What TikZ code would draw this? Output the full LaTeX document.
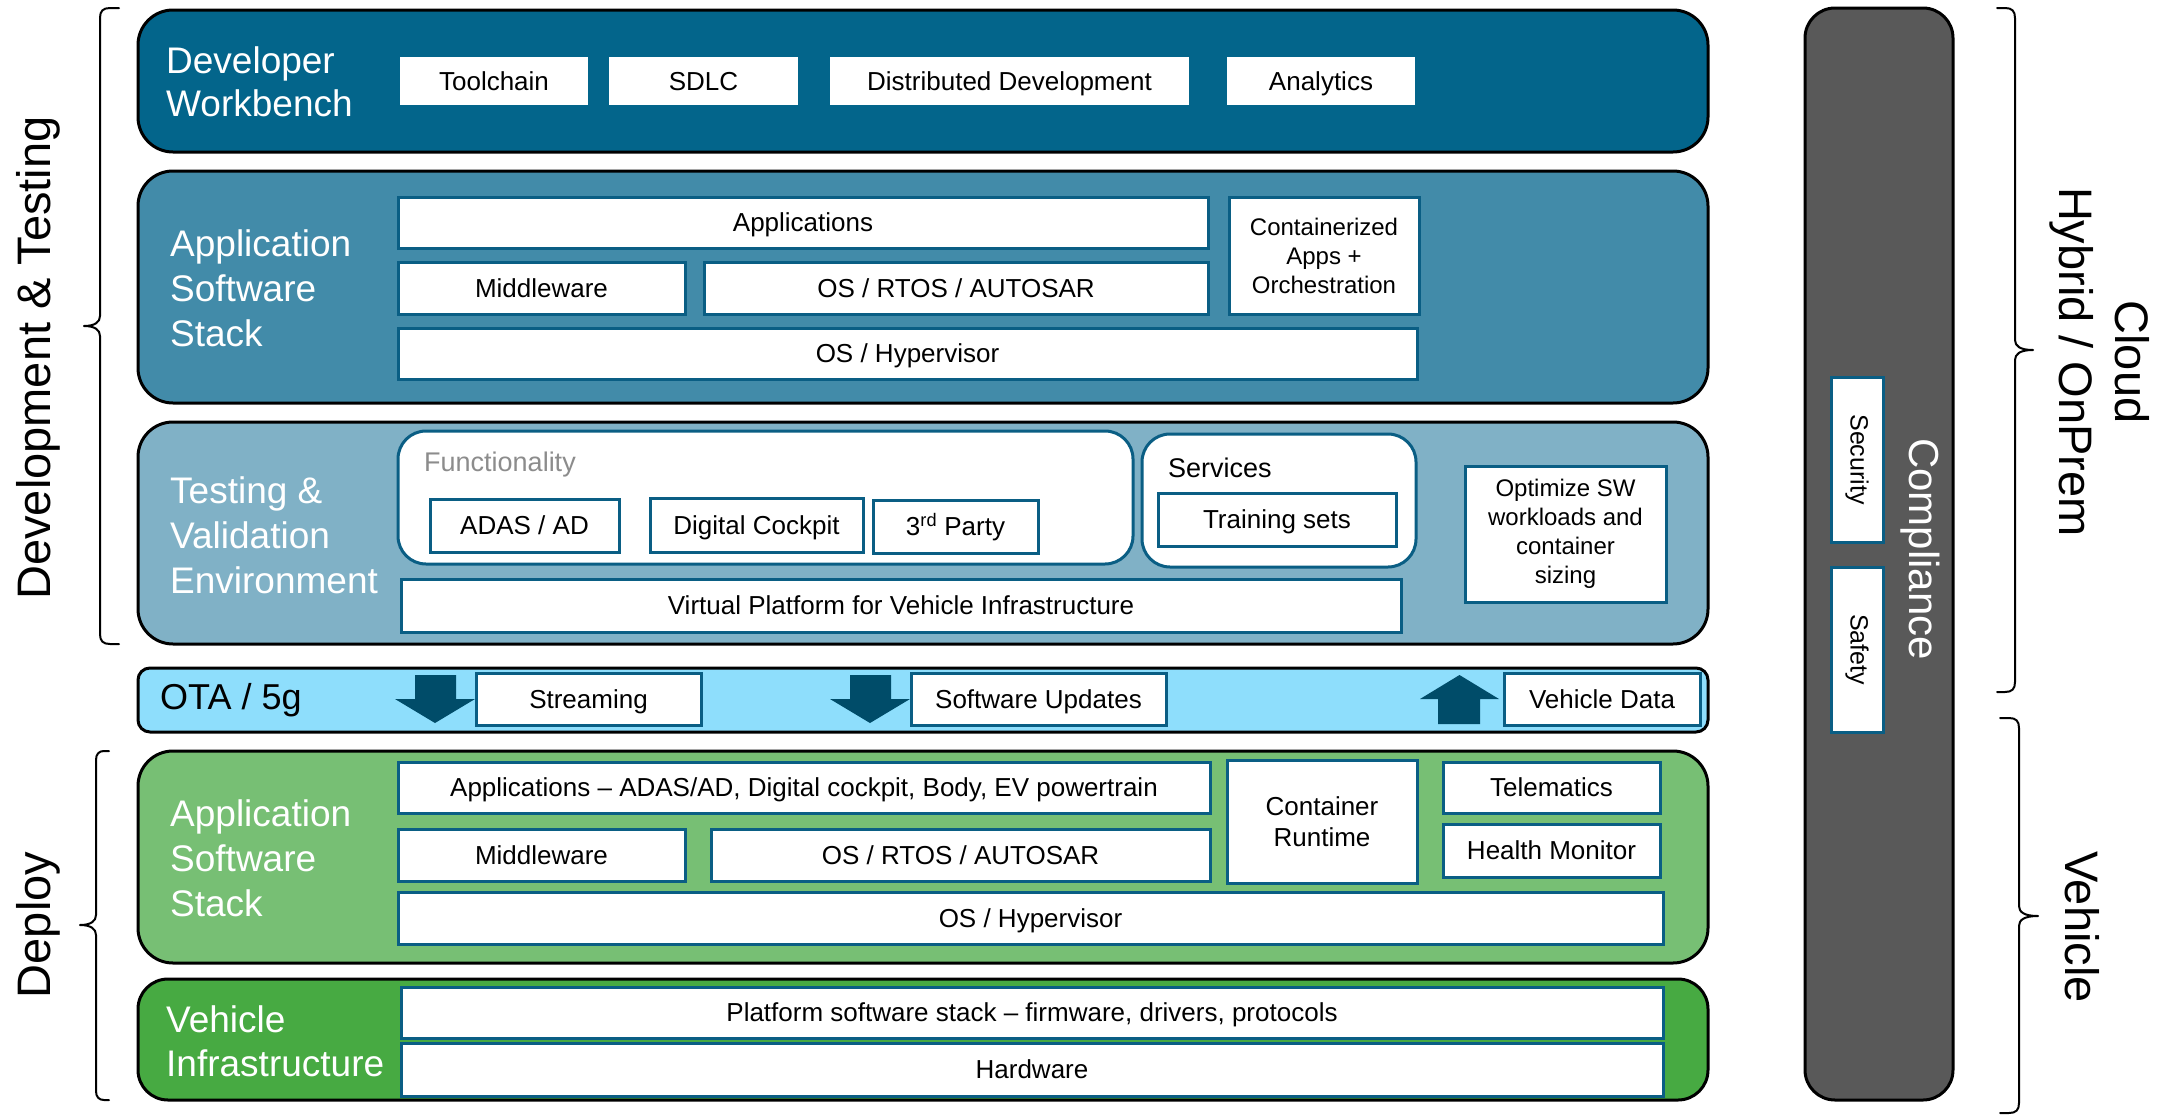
\documentclass[tikz,border=0pt]{standalone}
\usepackage{fontspec}
\setmainfont{Liberation Sans}
\definecolor{devwb}{HTML}{03658B}
\definecolor{appdev}{HTML}{428BA9}
\definecolor{testenv}{HTML}{80B1C6}
\definecolor{otaband}{HTML}{8EDEFC}
\definecolor{appveh}{HTML}{77BF74}
\definecolor{vehinf}{HTML}{47AA42}
\definecolor{compl}{HTML}{595959}
\definecolor{arrowteal}{HTML}{004C69}
\definecolor{boxline}{HTML}{0A5E84}
\definecolor{greytext}{HTML}{8C8C8C}
\newcommand\fBox{\fontsize{26}{31}\selectfont}
\newcommand\fSmall{\fontsize{24}{29}\selectfont}
\newcommand\fTitle{\fontsize{37}{45}\selectfont}
\newcommand\fSide{\fontsize{47}{56}\selectfont}
\begin{document}
\begin{tikzpicture}[x=1pt,y=-1pt,
  panel/.style={draw=black, line width=3pt, rounded corners=35pt, inner sep=0pt, outer sep=0pt},
  wbox/.style={draw=boxline, line width=3pt, fill=white, inner sep=0pt, outer sep=0pt, font=\fBox, text=black},
  pbox/.style={fill=white, inner sep=0pt, outer sep=0pt, font=\fBox, text=black},
  one/.style={text height=23.5pt, text depth=5.5pt},
  group/.style={draw=boxline, line width=3pt, fill=white, rounded corners=28pt, inner sep=0pt, outer sep=0pt},
  ttl/.style={text=white, font=\fTitle, align=left, inner sep=0pt, anchor=west},
  side/.style={font=\fSide, inner sep=0pt, align=center},
  brace/.style={draw=black, line width=2pt, line cap=round, line join=round},
  blockarrow/.style={fill=arrowteal}
]
\useasboundingbox (0,0) rectangle (2161,1114);

% ---------- Developer Workbench ----------
\node[panel, fill=devwb, minimum width=1570pt, minimum height=142pt] (pwb) at (923,81) {};
\node[ttl, font=\fontsize{37}{43}\selectfont] (twb) at (166,82) {Developer\\Workbench};
\node[pbox, one, minimum width=188pt, minimum height=48pt] (toolchain) at (494,81) {Toolchain};
\node[pbox, one, minimum width=189pt, minimum height=48pt] (sdlc) at (703.5,81) {SDLC};
\node[pbox, one, minimum width=359pt, minimum height=48pt] (distdev) at (1009.5,81) {Distributed Development};
\node[pbox, one, minimum width=188pt, minimum height=48pt] (analytics) at (1321,81) {Analytics};

% ---------- Application Software Stack (development) ----------
\node[panel, fill=appdev, minimum width=1570pt, minimum height=232pt] (pas) at (923,287) {};
\node[ttl] (tas) at (170,288) {Application\\Software\\Stack};
\node[wbox, one, minimum width=810pt, minimum height=51pt] (apps) at (803,222.5) {Applications};
\node[wbox, one, minimum width=287pt, minimum height=52pt] (mw) at (541.5,288) {Middleware};
\node[wbox, one, minimum width=504pt, minimum height=52pt] (rtos) at (956,288) {OS / RTOS / AUTOSAR};
\node[wbox, font=\fSmall, align=center, minimum width=190pt, minimum height=117pt] (cont) at (1324,255.5) {Containerized\\Apps +\\Orchestration};
\node[wbox, one, minimum width=1019pt, minimum height=51pt] (hyp) at (907.5,353.5) {OS / Hypervisor};

% ---------- Testing & Validation Environment ----------
\node[panel, fill=testenv, minimum width=1570pt, minimum height=222pt] (ptv) at (923,533) {};
\node[ttl] (ttv) at (170,535) {Testing \&\\Validation\\Environment};
\node[group, minimum width=735pt, minimum height=133pt] (func) at (765.5,497.5) {};
\node[inner sep=0pt, anchor=west, text=greytext, font=\fontsize{27}{32}\selectfont] (funclbl) at (424,465) {Functionality};
\node[wbox, one, minimum width=189pt, minimum height=53pt] (adas) at (524.5,525.5) {ADAS / AD};
\node[wbox, one, minimum width=213pt, minimum height=54pt] (cockpit) at (756.5,525) {Digital Cockpit};
\node[wbox, one, minimum width=165pt, minimum height=53pt] (third) at (955.5,526.5) {3\textsuperscript{rd} Party};
\node[group, minimum width=274pt, minimum height=133pt] (serv) at (1279,500.5) {};
\node[inner sep=0pt, anchor=west, font=\fontsize{27}{32}\selectfont] (servlbl) at (1168,468) {Services};
\node[wbox, one, minimum width=238pt, minimum height=53pt] (train) at (1277,519.5) {Training sets};
\node[wbox, font=\fSmall, align=center, minimum width=201pt, minimum height=136pt] (optim) at (1565.5,534) {Optimize SW\\workloads and\\container\\sizing};
\node[wbox, one, minimum width=1000pt, minimum height=53pt] (virt) at (901,605.5) {Virtual Platform for Vehicle Infrastructure};

% ---------- OTA / 5g ----------
\node[panel, fill=otaband, rounded corners=12pt, minimum width=1570pt, minimum height=64pt] (pota) at (923,700) {};
\node[inner sep=0pt, anchor=west, font=\fontsize{36}{43}\selectfont] (otalbl) at (160,700) {OTA / 5g};
\fill[blockarrow] (415,675) -- (456,675) -- (456,699) -- (475,699) -- (435,723) -- (395,699) -- (415,699) -- cycle;
\node[wbox, one, minimum width=225pt, minimum height=52pt] (stream) at (588.5,699) {Streaming};
\fill[blockarrow] (850,675) -- (891,675) -- (891,699) -- (910,699) -- (870,723) -- (830,699) -- (850,699) -- cycle;
\node[wbox, one, minimum width=255pt, minimum height=52pt] (swupd) at (1038.5,699) {Software Updates};
\fill[blockarrow] (1438,724) -- (1480,724) -- (1480,699) -- (1499,699) -- (1459.5,675) -- (1420,699) -- (1438,699) -- cycle;
\node[wbox, one, minimum width=196pt, minimum height=52pt] (vdata) at (1602,699) {Vehicle Data};

% ---------- Application Software Stack (vehicle) ----------
\node[panel, fill=appveh, minimum width=1570pt, minimum height=212pt] (pav) at (923,857) {};
\node[ttl] (tav) at (170,858) {Application\\Software\\Stack};
\node[wbox, one, minimum width=812pt, minimum height=51pt] (appsv) at (804,787.5) {Applications -- ADAS/AD, Digital cockpit, Body, EV powertrain};
\node[wbox, one, minimum width=287pt, minimum height=52pt] (mwv) at (541.5,855) {Middleware};
\node[wbox, one, minimum width=499pt, minimum height=52pt] (rtosv) at (960.5,855) {OS / RTOS / AUTOSAR};
\node[wbox, align=center, minimum width=190pt, minimum height=123pt] (crt) at (1322,821.5) {Container\\Runtime};
\node[wbox, one, minimum width=217pt, minimum height=51pt] (telem) at (1551.5,787.5) {Telematics};
\node[wbox, one, minimum width=217pt, minimum height=53pt] (health) at (1551.5,850.5) {Health Monitor};
\node[wbox, one, minimum width=1265pt, minimum height=52pt] (hypv) at (1030.5,918) {OS / Hypervisor};

% ---------- Vehicle Infrastructure ----------
\node[panel, fill=vehinf, rounded corners=30pt, minimum width=1570pt, minimum height=121pt] (pvi) at (923,1039.5) {};
\node[ttl, font=\fontsize{37}{44}\selectfont] (tvi) at (166,1041) {Vehicle\\Infrastructure};
\node[wbox, one, minimum width=1262pt, minimum height=51pt] (plat) at (1032,1012.5) {Platform software stack -- firmware, drivers, protocols};
\node[wbox, one, minimum width=1262pt, minimum height=53pt] (hw) at (1032,1069.5) {Hardware};

% ---------- Compliance column ----------
\node[panel, fill=compl, rounded corners=30pt, minimum width=148pt, minimum height=1092pt] (pcomp) at (1879,554) {};
\node[rotate=-90, text=white, inner sep=0pt, font=\fontsize{42}{50}\selectfont] (complbl) at (1920,549) {Compliance};
\node[wbox, minimum width=52pt, minimum height=165pt] (sec) at (1857,459.5) {};
\node[rotate=-90, inner sep=0pt, font=\fontsize{25}{30}\selectfont] (seclbl) at (1857,459.5) {Security};
\node[wbox, minimum width=52pt, minimum height=165pt] (saf) at (1857,649.5) {};
\node[rotate=-90, inner sep=0pt, font=\fontsize{25}{30}\selectfont] (saflbl) at (1857,649.5) {Safety};

% ---------- Braces and side labels ----------
\draw[brace] (119,8) -- (110,8) .. controls (103,8) and (100,11) .. (100,18) -- (100,316)
  .. controls (100,322) and (95,326) .. (84,326) .. controls (95,326) and (100,330) .. (100,336)
  -- (100,634) .. controls (100,641) and (103,644) .. (110,644) -- (119,644);
\node[side, rotate=90] (devtest) at (38.5,358) {Development \& Testing};

\draw[brace] (109,751) -- (104,751) .. controls (99,751) and (96,754) .. (96,760) -- (96,915)
  .. controls (96,921) and (91,925) .. (80,925) .. controls (91,925) and (96,929) .. (96,935)
  -- (96,1091) .. controls (96,1097) and (99,1100) .. (104,1100) -- (109,1100);
\node[side, rotate=90] (deploy) at (38,925) {Deploy};

\draw[brace] (1997,8) -- (2005,8) .. controls (2012,8) and (2015,11) .. (2015,18) -- (2015,340)
  .. controls (2015,346) and (2020,350) .. (2033,350) .. controls (2020,350) and (2015,354) .. (2015,360)
  -- (2015,682) .. controls (2015,689) and (2012,692) .. (2005,692) -- (1997,692);
\node[side, rotate=-90] (cloud) at (2100,362) {Cloud\\Hybrid / OnPrem};

\draw[brace] (2000,718) -- (2009,718) .. controls (2016,718) and (2019,721) .. (2019,728) -- (2019,906)
  .. controls (2019,912) and (2024,916) .. (2038,916) .. controls (2024,916) and (2019,920) .. (2019,926)
  -- (2019,1103) .. controls (2019,1110) and (2016,1113) .. (2009,1113) -- (2000,1113);
\node[side, rotate=-90] (vehicle) at (2082,927) {Vehicle};
\end{tikzpicture}
\end{document}
